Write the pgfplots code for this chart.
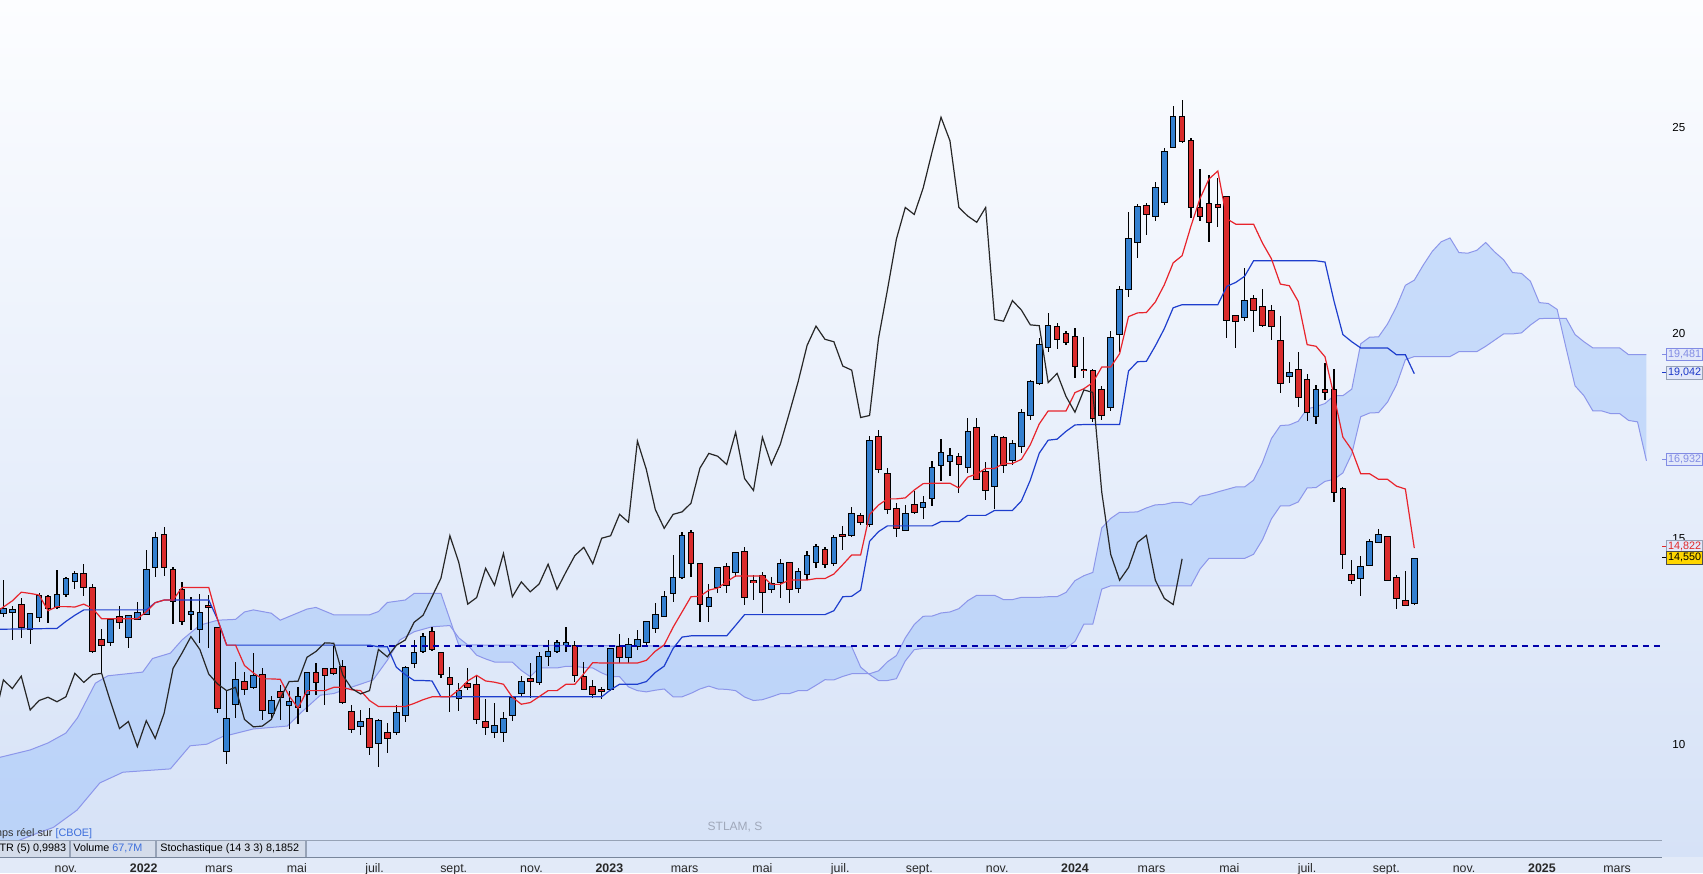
\documentclass[border=0pt]{standalone}
\usepackage{pgfplots}
\pgfplotsset{compat=1.18}
\usepackage{pgfplotstable}
\usepgfplotslibrary{fillbetween}
\usepackage{fontspec}
\setmainfont{Liberation Sans}

\definecolor{bgtop}{RGB}{252,253,255}
\definecolor{bgbot}{RGB}{214,226,247}
\definecolor{bgstrip}{RGB}{226,234,248}
\definecolor{cup}{RGB}{52,128,208}
\definecolor{cdn}{RGB}{218,44,44}
\definecolor{tenk}{RGB}{232,36,44}
\definecolor{kij}{RGB}{30,62,205}
\definecolor{cloudln}{RGB}{140,150,234}
\definecolor{cloudfill}{RGB}{160,196,250}
\definecolor{dashc}{RGB}{0,0,170}
\definecolor{axisgray}{RGB}{120,134,156}
\definecolor{lblc}{RGB}{40,40,40}
\definecolor{boxfill}{RGB}{212,220,234}
\definecolor{boxline}{RGB}{150,162,182}
\definecolor{vblue}{RGB}{60,110,220}
\definecolor{sbtext}{RGB}{160,168,186}
\definecolor{pale}{RGB}{130,140,228}
\definecolor{palefill}{RGB}{226,232,250}
\definecolor{kbox}{RGB}{28,56,200}
\definecolor{tbox}{RGB}{225,40,40}
\definecolor{ybox}{RGB}{255,214,0}

\pgfplotstableread[row sep=\\]{
n o h l c\\
-17 13.20 14.00 13.11 13.29\\
-16 13.22 13.37 12.56 13.28\\
-14 12.81 13.17 12.45 13.17\\
-13 13.10 13.68 12.99 13.62\\
-11 13.36 14.25 13.30 13.64\\
-10 13.66 14.09 13.60 14.04\\
-9 13.98 14.22 13.78 14.15\\
-5 12.51 13.04 12.41 13.04\\
-3 12.63 13.16 12.35 13.13\\
-2 13.05 13.46 13.05 13.20\\
-1 13.18 14.73 13.18 14.25\\
0 14.33 15.17 14.09 15.02\\
4 13.17 13.59 12.79 13.24\\
5 12.81 13.66 12.48 13.20\\
8 9.86 11.33 9.55 10.62\\
9 10.99 12.02 10.65 11.58\\
11 11.42 12.24 11.37 11.67\\
13 10.77 11.19 10.65 11.08\\
15 10.97 11.30 10.40 11.05\\
16 10.93 11.40 10.50 11.17\\
17 11.24 11.74 10.81 11.74\\
23 10.46 10.85 10.24 10.57\\
25 10.06 10.62 9.47 10.59\\
27 10.32 10.97 10.24 10.77\\
28 10.74 11.92 10.57 11.86\\
29 11.98 12.55 11.88 12.23\\
30 12.28 12.73 12.24 12.63\\
34 11.13 11.50 10.83 11.32\\
38 10.31 11.01 10.18 10.46\\
39 10.31 10.81 10.08 10.62\\
40 10.73 11.19 10.59 11.13\\
41 11.27 11.67 11.16 11.54\\
43 11.52 12.27 11.46 12.13\\
44 12.16 12.56 11.92 12.27\\
45 12.29 12.55 12.24 12.48\\
46 12.45 12.87 12.27 12.47\\
51 11.37 12.35 11.30 12.32\\
53 12.14 12.60 12.00 12.42\\
54 12.40 12.80 12.30 12.55\\
55 12.50 13.00 12.40 12.98\\
56 12.83 13.44 12.71 13.15\\
57 13.14 13.75 13.10 13.60\\
58 13.70 14.61 13.46 14.05\\
59 14.07 15.16 14.03 15.08\\
62 13.38 13.92 12.99 13.58\\
63 13.84 14.29 13.68 14.29\\
65 14.21 14.69 14.09 14.65\\
69 13.78 14.09 13.68 13.91\\
70 13.96 14.51 13.56 14.39\\
72 13.80 14.30 13.70 14.20\\
73 14.15 14.70 14.00 14.60\\
74 14.45 14.88 14.30 14.80\\
76 14.42 15.10 14.35 15.02\\
78 15.09 15.79 15.04 15.60\\
80 15.36 17.49 15.30 17.38\\
84 15.21 15.83 15.21 15.60\\
86 15.79 16.04 15.48 15.87\\
87 15.99 16.89 15.80 16.72\\
88 16.81 17.42 16.42 17.08\\
89 16.89 17.20 16.54 17.01\\
91 16.74 17.95 16.60 17.59\\
94 16.29 17.55 15.72 17.47\\
96 16.92 17.40 16.80 17.30\\
97 17.25 18.15 17.10 18.05\\
98 18.00 18.86 17.90 18.82\\
99 18.80 19.87 18.74 19.70\\
100 19.67 20.50 19.55 20.17\\
107 18.20 20.06 18.10 19.87\\
108 19.98 21.15 19.55 21.05\\
109 21.06 22.95 20.87 22.28\\
110 22.22 23.13 21.82 23.05\\
112 22.84 23.66 22.71 23.52\\
113 23.19 24.49 23.10 24.40\\
114 24.53 25.51 24.49 25.24\\
122 20.40 21.57 20.30 20.79\\
127 18.96 19.29 18.79 19.02\\
130 17.99 18.74 17.79 18.62\\
135 14.05 14.59 13.62 14.31\\
136 14.36 14.99 14.36 14.92\\
137 14.94 15.24 14.90 15.09\\
141 13.44 14.53 13.39 14.52\\
}\candup

\pgfplotstableread[row sep=\\]{
n o h l c\\
-15 13.40 13.56 12.59 12.86\\
-12 13.59 13.64 12.97 13.32\\
-8 14.15 14.39 13.62 13.84\\
-7 13.80 13.90 12.24 12.29\\
-6 12.55 12.81 11.74 12.42\\
-4 13.11 13.37 12.81 12.98\\
1 15.11 15.30 14.10 14.33\\
2 14.24 14.31 12.93 13.50\\
3 13.76 13.95 12.91 13.01\\
6 13.37 13.64 12.35 13.36\\
7 12.83 12.83 10.78 10.89\\
10 11.54 11.78 11.21 11.37\\
12 11.71 11.86 10.61 10.85\\
14 11.29 11.46 10.61 11.16\\
18 11.74 11.98 11.21 11.52\\
19 11.84 11.84 10.97 11.71\\
20 11.84 12.40 11.70 11.74\\
21 11.90 12.06 10.99 11.05\\
22 10.81 10.97 10.28 10.40\\
24 10.62 10.89 9.76 9.96\\
26 10.30 10.53 9.81 10.16\\
31 12.75 12.87 12.29 12.32\\
32 12.24 12.24 11.62 11.72\\
33 11.62 11.90 10.81 11.48\\
35 11.47 11.88 11.33 11.40\\
36 11.45 11.70 10.51 10.62\\
37 10.55 11.11 10.24 10.44\\
42 11.60 11.98 11.13 11.55\\
47 12.40 12.52 11.54 11.70\\
48 11.64 12.02 11.33 11.37\\
49 11.40 11.59 11.13 11.24\\
50 11.33 11.42 11.11 11.32\\
52 12.37 12.69 11.98 12.14\\
60 15.14 15.22 14.09 14.43\\
61 14.39 14.39 12.99 13.42\\
64 14.31 14.43 13.68 13.88\\
66 14.69 14.81 13.40 13.60\\
67 13.97 14.13 13.52 13.96\\
68 14.11 14.21 13.20 13.72\\
71 14.43 14.45 13.44 13.78\\
75 14.73 14.81 14.30 14.40\\
77 15.10 15.32 14.73 15.08\\
79 15.56 15.64 15.34 15.41\\
81 17.47 17.65 16.60 16.69\\
82 16.57 16.72 15.60 15.72\\
83 15.72 15.88 15.06 15.26\\
85 15.82 16.17 15.62 15.66\\
90 16.98 17.08 16.11 16.81\\
92 17.69 17.93 16.45 16.47\\
93 16.62 16.86 15.96 16.18\\
95 17.46 17.51 16.61 16.81\\
101 20.14 20.25 19.61 19.85\\
102 19.99 20.05 19.70 19.79\\
103 19.90 20.12 18.90 19.20\\
104 19.11 19.90 18.92 19.10\\
105 19.09 19.12 17.85 17.95\\
106 18.62 18.72 17.90 18.00\\
111 23.09 23.15 22.37 22.88\\
115 25.24 25.66 24.61 24.67\\
116 24.66 24.74 22.79 23.05\\
117 23.03 23.98 22.71 22.84\\
118 23.13 23.84 22.21 22.69\\
119 23.10 23.76 22.58 23.05\\
120 23.30 23.34 19.89 20.33\\
121 20.42 20.45 19.63 20.29\\
123 20.84 20.92 20.03 20.56\\
124 20.64 21.06 20.14 20.20\\
125 20.54 20.68 19.83 20.18\\
126 19.80 20.41 18.54 18.80\\
128 19.10 19.55 18.20 18.46\\
129 18.86 19.01 17.87 18.08\\
131 18.61 19.28 18.37 18.56\\
132 18.63 19.14 15.91 16.14\\
133 16.21 16.27 14.27 14.63\\
134 14.12 14.49 13.92 14.00\\
138 15.04 15.07 13.98 14.00\\
139 14.05 14.13 13.29 13.56\\
140 13.49 14.23 13.39 13.41\\
}\canddn

\pgfplotstableread[row sep=\\]{
n v\\
-17.4 13.29\\ -16 13.50\\ -15 13.71\\ -14 13.68\\ -13 13.64\\ -12 13.26\\ -11 13.36\\ -10 13.36\\
-9 13.35\\ -8 13.42\\ -7 13.315\\ -6 13.065\\ -2 13.065\\ -1 13.235\\ 0 13.455\\ 1 13.52\\ 2 13.52\\
3 13.825\\ 6 13.825\\ 7 13.04\\ 8 12.425\\ 9 12.425\\ 10 11.93\\ 11 11.75\\ 12 11.605\\ 13 11.605\\
14 11.595\\ 15 11.19\\ 16 10.895\\ 17 11.32\\ 19 11.32\\ 20 11.40\\ 21 11.40\\ 22 11.34\\ 23 11.32\\
24 11.08\\ 25 10.935\\ 28 10.935\\ 29 11.01\\ 30 11.10\\ 31 11.17\\ 33 11.17\\ 34 11.34\\ 35 11.555\\
36 11.69\\ 37 11.555\\ 38 11.525\\ 39 11.475\\ 40 11.16\\ 41 10.99\\ 42 11.03\\ 43 11.175\\ 44 11.32\\
45 11.32\\ 46 11.475\\ 47 11.475\\ 48 11.73\\ 49 12.00\\ 50 11.99\\ 54 11.99\\ 55 12.055\\ 56 12.275\\
57 12.43\\ 58 12.86\\ 59 13.23\\ 60 13.60\\ 61 13.61\\ 62 13.76\\ 63 13.81\\ 64 13.965\\ 65 14.105\\
68 14.105\\ 69 13.90\\ 70 13.90\\ 71 14.005\\ 73 14.005\\ 74 14.04\\ 75 14.04\\ 76 14.15\\ 77 14.38\\
78 14.615\\ 79 14.615\\ 80 15.595\\ 81 15.825\\ 82 15.975\\ 83 15.975\\ 84 16.00\\ 85 16.19\\ 86 16.345\\
87 16.355\\ 89 16.355\\ 90 16.24\\ 91 16.505\\ 92 16.58\\ 93 16.715\\ 94 16.715\\ 95 16.835\\ 96 16.835\\
97 16.935\\ 98 17.29\\ 99 17.795\\ 100 18.11\\ 102 18.11\\ 103 18.555\\ 104 18.65\\ 105 18.80\\ 106 19.175\\
107 19.175\\ 108 19.50\\ 109 20.40\\ 110 20.49\\ 111 20.50\\ 112 20.755\\ 113 21.17\\ 114 21.705\\ 115 21.88\\
116 22.605\\ 117 23.265\\ 118 23.74\\ 119 23.935\\ 120 22.775\\ 121 22.645\\ 123 22.645\\ 124 22.185\\
125 21.805\\ 126 21.19\\ 127 21.15\\ 128 20.77\\ 129 19.72\\ 130 19.68\\ 131 19.425\\ 132 18.485\\
133 17.475\\ 134 17.165\\ 135 16.585\\ 136 16.585\\ 137 16.45\\ 138 16.45\\ 139 16.285\\ 140 16.215\\ 141 14.78\\
}\tenkan

\pgfplotstableread[row sep=\\]{
n v\\
-17.4 12.81\\ -11 12.83\\ -10 13.00\\ -9 13.15\\ -8 13.28\\ -1 13.28\\ 0 13.455\\ 1 13.52\\ 6 13.52\\
7 13.04\\ 8 12.425\\ 24 12.425\\ 25 12.385\\ 26 12.385\\ 27 11.89\\ 28 11.71\\ 29 11.565\\ 30 11.565\\
31 11.555\\ 32 11.17\\ 50 11.17\\ 51 11.34\\ 52 11.475\\ 54 11.475\\ 55 11.54\\ 56 11.76\\ 57 11.915\\
58 12.345\\ 59 12.62\\ 60 12.65\\ 64 12.65\\ 65 12.905\\ 66 13.165\\ 75 13.165\\ 76 13.26\\ 77 13.60\\
78 13.61\\ 79 13.76\\ 80 14.945\\ 81 15.18\\ 82 15.32\\ 87 15.32\\ 88 15.425\\ 90 15.425\\ 91 15.575\\
93 15.575\\ 94 15.695\\ 96 15.695\\ 97 15.925\\ 98 16.43\\ 99 17.085\\ 100 17.40\\ 101 17.425\\ 102 17.615\\
103 17.77\\ 104 17.78\\ 108 17.78\\ 109 19.08\\ 110 19.305\\ 111 19.315\\ 112 19.69\\ 113 20.105\\
114 20.615\\ 115 20.69\\ 119 20.69\\ 120 21.135\\ 121 21.23\\ 122 21.38\\ 123 21.755\\ 130 21.755\\
131 21.725\\ 132 20.785\\ 133 19.965\\ 134 19.79\\ 135 19.64\\ 138 19.64\\ 139 19.475\\ 140 19.475\\ 141 19.015\\
}\kijun

\pgfplotstableread[row sep=\\]{
n v\\
-18 10.62\\ -17 11.58\\ -16 11.37\\ -15 11.67\\ -14 10.85\\ -13 11.08\\ -12 11.16\\ -11 11.05\\ -10 11.17\\
-9 11.74\\ -8 11.52\\ -7 11.71\\ -6 11.74\\ -5 11.05\\ -4 10.40\\ -3 10.57\\ -2 9.96\\ -1 10.59\\ 0 10.16\\
1 10.77\\ 2 11.86\\ 3 12.23\\ 4 12.63\\ 5 12.32\\ 6 11.72\\ 7 11.48\\ 8 11.32\\ 9 11.40\\ 10 10.62\\
11 10.44\\ 12 10.46\\ 13 10.62\\ 14 11.13\\ 15 11.54\\ 16 11.55\\ 17 12.13\\ 18 12.27\\ 19 12.48\\ 20 12.47\\
21 11.70\\ 22 11.37\\ 23 11.24\\ 24 11.32\\ 25 12.32\\ 26 12.14\\ 27 12.42\\ 28 12.55\\ 29 12.98\\ 30 13.15\\
31 13.60\\ 32 14.05\\ 33 15.08\\ 34 14.43\\ 35 13.42\\ 36 13.58\\ 37 14.29\\ 38 13.88\\ 39 14.65\\ 40 13.60\\
41 13.96\\ 42 13.72\\ 43 13.91\\ 44 14.39\\ 45 13.78\\ 46 14.20\\ 47 14.60\\ 48 14.80\\ 49 14.40\\ 50 15.02\\
51 15.08\\ 52 15.60\\ 53 15.41\\ 54 17.38\\ 55 16.69\\ 56 15.72\\ 57 15.26\\ 58 15.60\\ 59 15.66\\ 60 15.87\\
61 16.72\\ 62 17.08\\ 63 17.01\\ 64 16.81\\ 65 17.59\\ 66 16.47\\ 67 16.18\\ 68 17.47\\ 69 16.81\\ 70 17.30\\
71 18.05\\ 72 18.82\\ 73 19.70\\ 74 20.17\\ 75 19.85\\ 76 19.79\\ 77 19.20\\ 78 19.10\\ 79 17.95\\ 80 18.00\\
81 19.87\\ 82 21.05\\ 83 22.28\\ 84 23.05\\ 85 22.88\\ 86 23.52\\ 87 24.40\\ 88 25.24\\ 89 24.67\\ 90 23.05\\
91 22.84\\ 92 22.69\\ 93 23.05\\ 94 20.33\\ 95 20.29\\ 96 20.79\\ 97 20.56\\ 98 20.20\\ 99 20.18\\ 100 18.80\\
101 19.02\\ 102 18.46\\ 103 18.08\\ 104 18.62\\ 105 18.56\\ 106 16.14\\ 107 14.63\\ 108 14.00\\ 109 14.31\\
110 14.92\\ 111 15.09\\ 112 14.00\\ 113 13.56\\ 114 13.41\\ 115 14.52\\
}\chikou

\pgfplotstableread[row sep=\\]{
n v\\
-17.4 9.70\\ -14 9.88\\ -12 10.05\\ -10 10.29\\ -8.7 10.66\\ -6.7 11.50\\ -5.3 11.68\\ -1.4 11.77\\
-0.3 12.10\\ 1.7 12.23\\ 3 12.55\\ 5 12.91\\ 7 13.03\\ 9 13.05\\ 10 13.23\\
11 13.28\\ 13 13.20\\ 14 13.03\\ 17 13.30\\ 18 13.34\\ 20 13.16\\ 24 13.16\\ 25 13.24\\ 26 13.46\\
28 13.52\\ 29 13.68\\ 32 13.68\\ 33 13.05\\
34 12.425\\ 35 12.425\\ 36 12.18\\ 37 12.09\\ 38 12.015\\ 39 12.015\\ 40 12.01\\ 41 11.81\\ 42 11.66\\
43 11.87\\ 45 11.87\\ 46 11.91\\ 47 11.91\\ 48 11.88\\ 49 11.87\\ 50 11.75\\ 51 11.66\\ 52 11.66\\
53 11.41\\ 54 11.32\\ 55 11.29\\ 56 11.33\\ 57 11.36\\ 58 11.17\\ 59 11.17\\ 60 11.255\\ 61 11.36\\
62 11.43\\ 63 11.36\\ 64 11.35\\ 65 11.32\\ 66 11.165\\ 67 11.08\\ 68 11.10\\ 69 11.17\\ 70 11.245\\
71 11.245\\ 72 11.32\\ 73 11.32\\ 74 11.45\\ 75 11.585\\ 76 11.58\\ 77 11.665\\ 78 11.73\\ 80 11.73\\
81 11.80\\ 82 12.02\\ 83 12.17\\ 84 12.60\\ 85 12.925\\ 86 13.125\\ 87 13.13\\ 88 13.205\\ 89 13.23\\
90 13.31\\ 91 13.505\\ 92 13.635\\ 94 13.635\\ 95 13.53\\ 96 13.53\\ 97 13.585\\ 99 13.585\\ 100 13.60\\
101 13.60\\ 102 13.705\\ 103 13.99\\ 104 14.11\\ 105 14.19\\ 106 15.27\\ 107 15.50\\ 108 15.65\\ 109 15.65\\
110 15.66\\ 111 15.755\\ 112 15.83\\ 113 15.84\\ 114 15.89\\ 115 15.89\\ 116 15.83\\ 117 16.04\\ 118 16.08\\
119 16.145\\ 120 16.205\\ 121 16.265\\ 122 16.265\\ 123 16.43\\ 124 16.86\\ 125 17.44\\ 126 17.755\\
127 17.77\\ 128 17.86\\ 129 18.16\\ 130 18.215\\ 131 18.29\\ 132 18.48\\ 133 18.48\\ 134 18.64\\
135 19.74\\ 136 19.90\\ 137 19.91\\ 138 20.22\\ 139 20.64\\ 140 21.16\\ 141 21.285\\ 142 21.65\\
143 21.98\\ 144 22.215\\ 145 22.31\\ 146 21.955\\ 147 21.94\\ 148 22.01\\ 149 22.20\\ 150 21.97\\
151 21.78\\ 152 21.47\\ 153 21.45\\ 154 21.26\\ 155 20.74\\ 156 20.72\\ 157 20.575\\ 158 19.635\\
159 18.72\\ 160 18.48\\ 161 18.11\\ 162 18.11\\ 163 18.045\\ 164 18.045\\ 165 17.88\\ 166 17.845\\ 167 16.90\\
}\senkouA

\pgfplotstableread[row sep=\\]{
n v\\
-17.4 7.50\\ -13.2 7.86\\ -11.4 8.00\\ -8.75 8.42\\ -6.2 9.08\\ -3.6 9.34\\ 1.7 9.42\\ 3.9 9.98\\ 5.8 10.02\\
7.5 10.20\\ 11 10.39\\ 14.8 10.46\\ 16.4 10.80\\ 18.5 11.21\\ 20 11.25\\ 22.2 11.42\\ 24.4 11.58\\ 25.2 11.82\\
26 12.06\\ 26.7 12.31\\ 27.4 12.55\\ 29 12.75\\ 31 12.87\\ 33 12.90\\ 34 12.60\\ 35 12.43\\ 59 12.40\\
60 12.385\\ 78 12.385\\ 79 11.89\\ 80 11.71\\ 81 11.565\\ 82 11.565\\ 83 11.61\\ 84 12.04\\ 85 12.315\\
86 12.345\\ 102 12.345\\ 103 12.515\\ 104 12.935\\ 105 12.935\\ 106 13.785\\ 107 13.865\\ 116 13.865\\
117 14.27\\ 118 14.53\\ 122 14.53\\ 123 14.63\\ 124 14.985\\ 125 15.49\\ 126 15.805\\ 127 15.805\\
128 15.90\\ 129 16.24\\ 130 16.25\\ 131 16.40\\ 132 16.45\\ 133 16.605\\ 134 17.07\\ 135 17.97\\
136 18.06\\ 137 18.07\\ 138 18.325\\ 139 18.74\\ 140 19.355\\ 141 19.43\\ 145 19.43\\ 146 19.55\\
148 19.55\\ 149 19.68\\ 150 19.83\\ 151 19.98\\ 152 19.98\\ 153 20.005\\ 154 20.195\\ 155 20.35\\
156 20.36\\ 158 20.36\\ 159 19.965\\ 160 19.79\\ 161 19.64\\ 164 19.64\\ 165 19.475\\ 167 19.475\\
}\senkouB

\begin{document}
\begin{tikzpicture}
\shade[top color=bgtop, bottom color=bgbot] (831pt,8pt) rectangle (851.5pt,436.5pt);
\fill[bgstrip] (0,0) rectangle (851.5pt,8pt);
\begin{axis}[
  at={(0pt,8pt)}, anchor=south west,
  scale only axis, width=831pt, height=428.5pt,
  xmin=-17.38, xmax=168.74, ymin=7.281, ymax=28.087,
  axis background/.style={top color=bgtop, bottom color=bgbot},
  axis x line*=bottom, axis y line*=right,
  axis line style={draw=axisgray, line width=0.5pt},
  tick align=outside, major tick length=2pt,
  tick style={draw=axisgray, line width=0.5pt},
  xtick={-10.0,-1.29,7.14,15.86,24.57,33.43,42.14,50.86,59.29,68.0,76.71,85.57,94.29,103.0,111.57,120.29,129.0,137.86,146.57,155.29,163.71},
  xticklabels={nov.,\textbf{2022},mars,mai,juil.,sept.,nov.,\textbf{2023},mars,mai,juil.,sept.,nov.,\textbf{2024},mars,mai,juil.,sept.,nov.,\textbf{2025},mars},
  ytick={10,15,20,25},
  /pgf/number format/assume math mode=true,
  x tick label style={font=\fontsize{6.2}{7}\selectfont, text=lblc, anchor=base, inner sep=0pt, yshift=-5.9pt},
  y tick label style={font=\fontsize{5.8}{7}\selectfont, text=black, anchor=west, inner sep=0pt, xshift=3pt},
]
% cloud
\addplot[name path=SA, draw=cloudln, line width=0.5pt, forget plot] table[x=n,y=v]{\senkouA};
\addplot[name path=SB, draw=cloudln, line width=0.5pt, forget plot] table[x=n,y=v]{\senkouB};
\addplot[fill=cloudfill, fill opacity=0.5, draw=none, forget plot] fill between[of=SA and SB];
% wicks
\addplot[draw=none, mark=none, forget plot, error bars/.cd, y dir=both, y explicit, error mark=none,
  error bar style={draw=black, line width=0.6pt}]
  table[x=n, y expr={(\thisrow{h}+\thisrow{l})/2}, y error expr={(\thisrow{h}-\thisrow{l})/2}]{\candup};
\addplot[draw=none, mark=none, forget plot, error bars/.cd, y dir=both, y explicit, error mark=none,
  error bar style={draw=black, line width=0.6pt}]
  table[x=n, y expr={(\thisrow{h}+\thisrow{l})/2}, y error expr={(\thisrow{h}-\thisrow{l})/2}]{\canddn};
% bodies outline
\addplot[draw=none, mark=none, forget plot, error bars/.cd, y dir=both, y explicit, error mark=none,
  error bar style={draw=black, line width=3.3pt}]
  table[x=n, y expr={(\thisrow{o}+\thisrow{c})/2}, y error expr={(\thisrow{c}-\thisrow{o})/2+0.0243}]{\candup};
\addplot[draw=none, mark=none, forget plot, error bars/.cd, y dir=both, y explicit, error mark=none,
  error bar style={draw=black, line width=3.3pt}]
  table[x=n, y expr={(\thisrow{o}+\thisrow{c})/2}, y error expr={(\thisrow{o}-\thisrow{c})/2+0.0243}]{\canddn};
% bodies fill
\addplot[draw=none, mark=none, forget plot, error bars/.cd, y dir=both, y explicit, error mark=none,
  error bar style={draw=cup, line width=2.3pt}]
  table[x=n, y expr={(\thisrow{o}+\thisrow{c})/2}, y error expr={(\thisrow{c}-\thisrow{o})/2}]{\candup};
\addplot[draw=none, mark=none, forget plot, error bars/.cd, y dir=both, y explicit, error mark=none,
  error bar style={draw=cdn, line width=2.3pt}]
  table[x=n, y expr={(\thisrow{o}+\thisrow{c})/2}, y error expr={(\thisrow{o}-\thisrow{c})/2}]{\canddn};
% dashed level
\addplot[draw=dashc, line width=1pt, dash pattern=on 3pt off 2.5pt, forget plot] coordinates {(23.7,12.41) (168.74,12.41)};
% lines
\addplot[draw=kij, line width=0.6pt, forget plot] table[x=n,y=v]{\kijun};
\addplot[draw=tenk, line width=0.6pt, forget plot] table[x=n,y=v]{\tenkan};
\addplot[draw=black!85, line width=0.6pt, forget plot] table[x=n,y=v]{\chikou};
\coordinate (rA) at (axis cs:168.74,19.481);
\coordinate (rK) at (axis cs:168.74,19.042);
\coordinate (rB) at (axis cs:168.74,16.932);
\coordinate (rT) at (axis cs:168.74,14.822);
\coordinate (rC) at (axis cs:168.74,14.550);
\end{axis}
% right value boxes
\tikzset{vbox/.style={anchor=west, xshift=2pt, font=\fontsize{5.4}{6}\selectfont, inner xsep=0.8pt, inner ysep=0pt, minimum height=6.4pt, line width=0.4pt}}
\draw[pale, line width=0.5pt] (rA) -- ++(2pt,0);
\node[vbox, draw=pale, fill=palefill, text=pale] at (rA) {19,481};
\draw[kbox, line width=0.5pt] (rK) -- ++(2pt,0);
\node[vbox, draw=boxline, fill=palefill, text=kbox] at (rK) {19,042};
\draw[pale, line width=0.5pt] (rB) -- ++(2pt,0);
\node[vbox, draw=pale, fill=palefill, text=pale] at (rB) {16,932};
\draw[tbox, line width=0.5pt] (rT) -- ++(2pt,0);
\node[vbox, draw=boxline, fill=palefill, text=tbox] at (rT) {14,822};
\draw[black, line width=0.5pt] (rC) -- ++(2pt,0);
\node[vbox, draw=black!70, fill=ybox, text=black] at (rC) {14,550};
% info row
\fill[boxfill] (0,8pt) rectangle (34.5pt,16.5pt);
\draw[boxline, line width=0.4pt] (0,16.5pt) -- (34.5pt,16.5pt) -- (34.5pt,8pt);
\draw[boxline, line width=0.4pt, fill=boxfill] (35pt,8pt) rectangle (77.8pt,16.5pt);
\draw[boxline, line width=0.4pt, fill=boxfill] (78.3pt,8pt) rectangle (152.5pt,16.5pt);
\draw[boxline, line width=0.4pt] (153pt,8pt) -- (153pt,16.5pt) -- (831pt,16.5pt);
\draw[axisgray, line width=0.5pt] (0,8pt) -- (831pt,8pt);
\node[anchor=east, inner sep=0pt, font=\fontsize{5.4}{6}\selectfont] at (33.3pt,12.25pt) {ATR (5) 0,9983};
\node[anchor=west, inner sep=0pt, font=\fontsize{5.4}{6}\selectfont] at (36.5pt,12.25pt) {Volume \textcolor{vblue}{67,7M}};
\node[anchor=west, inner sep=0pt, font=\fontsize{5.4}{6}\selectfont] at (80pt,12.25pt) {Stochastique (14 3 3) 8,1852};
\node[anchor=east, inner sep=0pt, font=\fontsize{5.4}{6}\selectfont, text=black!80] at (46.3pt,19.8pt) {temps réel sur \textcolor{vblue}{[CBOE]}};
\node[inner sep=0pt, font=\fontsize{6}{7}\selectfont, text=sbtext] at (367.5pt,23pt) {STLAM, S};
\pgfresetboundingbox
\path[use as bounding box] (0,0) rectangle (851.5pt,436.5pt);
\end{tikzpicture}
\end{document}
